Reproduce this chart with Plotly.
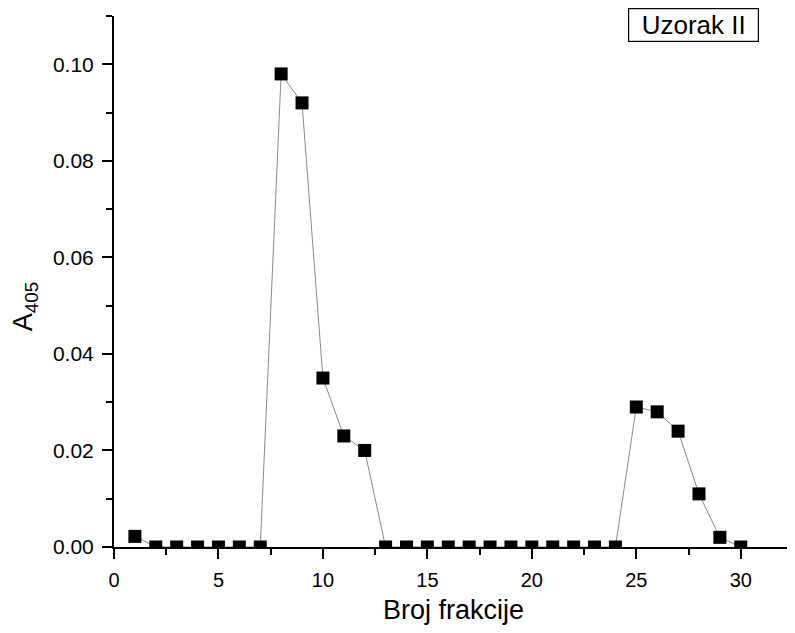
import plotly.graph_objects as go

# fraction numbers and absorbance at 405 nm
fractions = list(range(1, 31))
a405 = [0.0022, 0, 0, 0, 0, 0, 0, 0.098, 0.092, 0.035,
        0.023, 0.020, 0, 0, 0, 0, 0, 0, 0, 0,
        0, 0, 0, 0, 0.029, 0.028, 0.024, 0.011, 0.002, 0]

FONT = "Liberation Sans, Arial, sans-serif"

fig = go.Figure()

fig.add_scatter(
    x=fractions, y=a405,
    mode="lines+markers",
    line=dict(color="#8a8a8a", width=1),
    marker=dict(symbol="square", size=13, color="black"),
    showlegend=False
)

# page body has an 8px default margin, so the margins are shifted by it
fig.update_layout(
    width=795, height=633,
    margin=dict(l=106, r=10, t=8, b=94),
    plot_bgcolor="white", paper_bgcolor="white",
    font=dict(family=FONT, color="black", size=20),
    xaxis=dict(
        range=[0, 32.5], dtick=5, tick0=0,
        showline=True, linecolor="black", linewidth=2,
        ticks="outside", ticklen=10, tickwidth=1.5, tickcolor="black",
        minor=dict(dtick=2.5, ticks="outside", ticklen=6, tickwidth=1.5, tickcolor="black"),
        showgrid=False, zeroline=False,
        tickfont=dict(size=20), ticklabelstandoff=4
    ),
    yaxis=dict(
        range=[0, 0.11], dtick=0.02, tick0=0, tickformat=".2f",
        showline=True, linecolor="black", linewidth=2,
        ticks="outside", ticklen=10, tickwidth=1.5, tickcolor="black",
        minor=dict(dtick=0.01, ticks="outside", ticklen=6, tickwidth=1.5, tickcolor="black"),
        showgrid=False, zeroline=False,
        tickfont=dict(size=21), ticklabelstandoff=4
    ),
    annotations=[
        dict(
            x=0.853, y=0.983, xref="paper", yref="paper",
            xanchor="center", yanchor="middle",
            text="Uzorak II", showarrow=False,
            font=dict(size=26, family=FONT),
            width=125, height=28,
            bordercolor="black", borderwidth=1.2, borderpad=2,
            bgcolor="white"
        ),
        dict(
            x=0.5, y=-0.118, xref="paper", yref="paper",
            xanchor="center", yanchor="middle",
            text="Broj frakcije", showarrow=False,
            font=dict(size=27, family=FONT)
        ),
        dict(
            x=-0.13, y=0.453, xref="paper", yref="paper",
            xanchor="center", yanchor="middle", textangle=-90,
            text="A<sub>405</sub>", showarrow=False,
            font=dict(size=27, family=FONT)
        )
    ]
)

fig.write_html("out.html")
